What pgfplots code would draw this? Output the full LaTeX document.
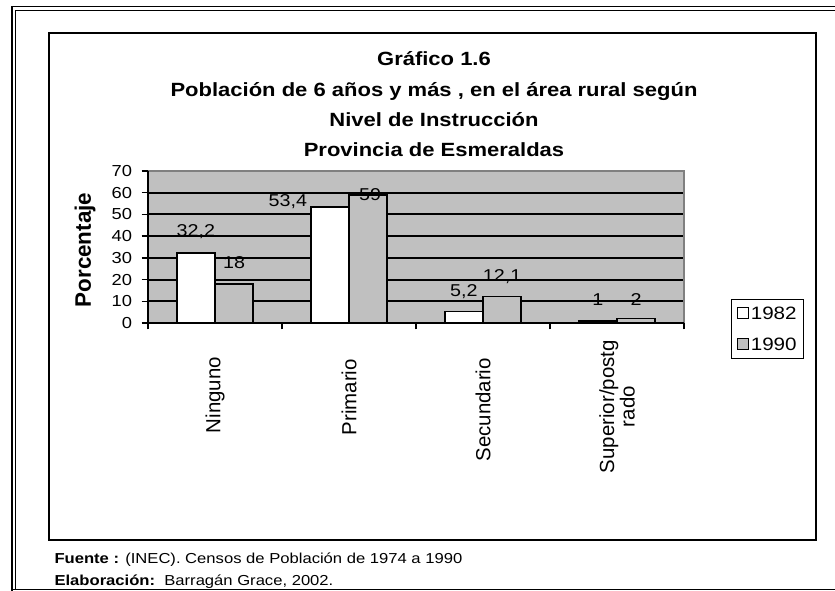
\documentclass[border=0pt]{standalone}
\usepackage{fontspec}
\setmainfont{Liberation Sans}[FakeStretch=1.15]
\newfontfamily\plainf{Liberation Sans}
\usepackage{pgfplots}
\usepackage{pgfplotstable}
\pgfplotsset{compat=1.18}
\definecolor{bg}{HTML}{C0C0C0}
\definecolor{bord}{HTML}{808080}

\pgfplotstableread{
x y lab ny dx
0.5 32.2 32,2 21 0
1.5 53.4 53,4 5 -42
2.5 5.2 5,2 20 0
3.5 1 1 21 0
}\tA
\pgfplotstableread{
x y lab ny dx
0.5 18 18 21 0
1.5 59 59 0 2
2.5 12.1 12,1 20 0
3.5 2 2 19 0
}\tB

\newcommand{\fsz}[1]{\fontsize{#1}{#1}\selectfont}

\begin{document}
\begin{tikzpicture}[x=1bp,y=1bp]
\useasboundingbox (0,0) rectangle (835,591);
\clip (0,0) rectangle (835,591);
% outer double frame (cropped at right and bottom)
\draw[line width=1.6bp] (12,-5) -- (12,584.5) -- (840,584.5);
\draw[line width=1.6bp] (15.5,1.5) -- (15.5,580.5) -- (840,580.5);
\draw[line width=1.6bp] (12,1.5) -- (840,1.5);
% inner chart frame
\draw[line width=2bp] (48.5,51) rectangle (815.5,558);
% titles
\node[anchor=base, font=\bfseries\fsz{19.2}] at (434,525) {Gráfico 1.6};
\node[anchor=base, font=\bfseries\fsz{19.2}] at (434,494.5) {Población de 6 años y más , en el área rural según};
\node[anchor=base, font=\bfseries\fsz{19.2}] at (434,464) {Nivel de Instrucción};
\node[anchor=base, font=\bfseries\fsz{19.2}] at (434,434) {Provincia de Esmeraldas};
% y label
\node[rotate=90, font=\plainf\bfseries\fsz{22.5}] at (85,341) {Porcentaje};

\begin{axis}[
  at={(148bp,268bp)}, anchor=south west,
  width=536bp, height=152bp, scale only axis,
  clip=false,
  xmin=0, xmax=4, ymin=0, ymax=70,
  xtick={0,1,2,3,4}, xticklabels={},
  ytick={0,10,...,60},
  extra y ticks={70}, extra y tick style={grid=none},
  ymajorgrids, major grid style={black, line width=2bp},
  tick align=outside, xtick pos=lower, ytick pos=left,
  major tick length=6.5bp,
  tick style={black, line width=1.5bp},
  /pgf/number format/assume math mode=true,
  yticklabel style={font=\fsz{16}, xshift=-6bp},
  axis line style={draw=none},
  axis background/.style={fill=bg},
  ybar=0pt, bar width=0.285,
  nodes near coords,
  point meta=explicit symbolic,
  visualization depends on={\thisrow{ny} \as \ny},
  visualization depends on={\thisrow{dx} \as \dx},
  every node near coord/.append style={anchor=center, font=\fsz{17.2}, xshift=\dx bp, yshift=\ny bp, inner sep=0pt},
  legend style={at={(1.156,-0.04)}, anchor=center, draw=black, line width=1.5bp, font=\fsz{18}, inner sep=5bp, row sep=13bp, legend cell align=left},
  legend image code/.code={\draw[#1, line width=1.2bp] (2bp,-5bp) rectangle (13bp,6bp);},
]
\addplot[fill=white, draw=black, line width=1.5bp] table[x=x, y=y, meta=lab] {\tA};
\addplot[fill=bg, draw=black, line width=1.5bp] table[x=x, y=y, meta=lab] {\tB};
\legend{1982,1990}
\draw[bord, line width=1.5bp] (axis cs:0,70) -- (axis cs:4,70) -- (axis cs:4,0);
\draw[black, line width=2bp] (axis cs:0,0) -- (axis cs:0,70);
\draw[black, line width=2bp] (axis cs:0,0) -- (axis cs:4,0);
\node[rotate=90, anchor=east, inner sep=0pt, font=\plainf\fsz{20.5}, xshift=-34bp] at (axis cs:0.5,0) {Ninguno};
\node[rotate=90, anchor=east, inner sep=0pt, font=\plainf\fsz{20.5}, xshift=-36bp] at (axis cs:1.5,0) {Primario};
\node[rotate=90, anchor=east, inner sep=0pt, font=\plainf\fsz{20.5}, xshift=-35bp] at (axis cs:2.5,0) {Secundario};
\node[rotate=90, anchor=east, inner sep=0pt, font=\plainf\fsz{20.5}, align=center, xshift=-17bp] at (axis cs:3.5,0) {Superior/postg\\rado};
\end{axis}
% footnote
\node[anchor=base west, font=\fsz{14.5}] at (51,27) {\textbf{Fuente :} (INEC). Censos de Población de 1974 a 1990};
\node[anchor=base west, font=\fsz{14.5}] at (51,5) {\textbf{Elaboración:}\ \ Barragán Grace, 2002.};
\end{tikzpicture}
\end{document}
